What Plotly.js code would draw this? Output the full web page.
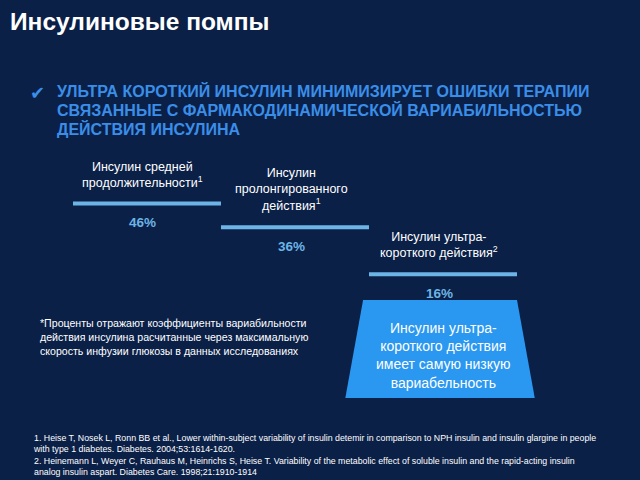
<!DOCTYPE html>
<html>
<head>
<meta charset="utf-8">
<script src="https://cdn.plot.ly/plotly-3.0.1.min.js"></script>
<style>html,body{margin:0;padding:0;background:#0b2047;}#chart{width:640px;height:480px;}</style>
</head>
<body>
<div id="chart"></div>
<script>
// ---- data ----
const categories = [
  'Инсулин средней<br>продолжительности<sup>1</sup>',
  'Инсулин<br>пролонгированного<br>действия<sup>1</sup>',
  'Инсулин ультра-<br>короткого действия<sup>2</sup>'
];
const variability = [46, 36, 16];
const valueLabels = ['46%', '36%', '16%'];

const titleText = 'Инсулиновые помпы';
const headingLines = [
  'УЛЬТРА КОРОТКИЙ ИНСУЛИН МИНИМИЗИРУЕТ ОШИБКИ ТЕРАПИИ',
  'СВЯЗАННЫЕ С ФАРМАКОДИНАМИЧЕСКОЙ ВАРИАБИЛЬНОСТЬЮ',
  'ДЕЙСТВИЯ ИНСУЛИНА'
];
const boxText = 'Инсулин ультра-<br>короткого действия<br>имеет самую низкую<br>вариабельность';
const noteText = '*Проценты отражают коэффициенты вариабильности<br>действия инсулина расчитанные через максимальную<br>скорость инфузии глюкозы в данных исследованиях';
const refText = '1. Heise T, Nosek L, Ronn BB et al., Lower within-subject variability of insulin detemir in comparison to NPH insulin and insulin glargine in people<br>with type 1 diabetes. Diabetes. 2004;53:1614-1620.<br>2. Heinemann L, Weyer C, Rauhaus M, Heinrichs S, Heise T. Variability of the metabolic effect of soluble insulin and the rapid-acting insulin<br>analog insulin aspart. Diabetes Care. 1998;21:1910-1914';

// ---- styles ----
const BG = '#0b2047';
const LINE = '#6cb4e6';
const HEAD = '#3a8ee8';
const BOX = '#2a97f0';
const FONT = 'Liberation Sans, Arial, sans-serif';

const traces = categories.map((c, i) => ({
  type: 'scatter', mode: 'lines',
  x: [i, i + 1], y: [variability[i], variability[i]],
  line: {color: LINE, width: 4},
  hoverinfo: 'skip', showlegend: false
}));

const annotations = [];
categories.forEach((c, i) => {
  annotations.push({
    x: i + 0.5, y: variability[i], xref: 'x', yref: 'y',
    text: c, showarrow: false, yanchor: 'bottom', xanchor: 'center',
    xshift: -4, yshift: 12, font: {family: FONT, size: 12.5, color: '#ffffff'}, align: 'center'
  });
  annotations.push({
    x: i + 0.5, y: variability[i], xref: 'x', yref: 'y',
    text: '<b>' + valueLabels[i] + '</b>', showarrow: false, yanchor: 'middle', xanchor: 'center',
    xshift: -4, yshift: -19, font: {family: FONT, size: 13.5, color: LINE}
  });
});

// title
annotations.push({
  xref: 'paper', yref: 'paper', x: 0.0125, y: 1 - 22 / 480, xanchor: 'left', yanchor: 'middle',
  text: '<b>' + titleText + '</b>', showarrow: false,
  font: {family: FONT, size: 24.5, color: '#ffffff'}
});
// check mark
annotations.push({
  xref: 'paper', yref: 'paper', x: 28 / 640, y: 1 - 93 / 480, xanchor: 'left', yanchor: 'middle',
  text: '✔', showarrow: false, font: {family: 'DejaVu Sans', size: 18, color: HEAD}
});
const headY = [91, 110, 129];
headingLines.forEach((t, k) => {
  annotations.push({
    xref: 'paper', yref: 'paper', x: 55 / 640, y: 1 - headY[k] / 480, xanchor: 'left', yanchor: 'middle',
    text: '<b>' + t + '</b>', showarrow: false, font: {family: FONT, size: 16, color: HEAD}
  });
});
// box text
annotations.push({
  xref: 'x', yref: 'paper', x: 2.5, y: 1 - 355 / 480, xanchor: 'center', yanchor: 'middle',
  text: boxText, showarrow: false, align: 'center',
  font: {family: FONT, size: 14, color: '#ffffff'}
});
// note
annotations.push({
  xref: 'paper', yref: 'paper', x: 38 / 640, y: 1 - 337 / 480, xanchor: 'left', yanchor: 'middle',
  text: noteText, showarrow: false, align: 'left',
  font: {family: FONT, size: 10.6, color: '#ffffff'}
});
// references
annotations.push({
  xref: 'paper', yref: 'paper', x: 31 / 640, y: 1 - 455 / 480, xanchor: 'left', yanchor: 'middle',
  text: refText, showarrow: false, align: 'left',
  font: {family: FONT, size: 8.8, color: '#ffffff'}
});

const layout = {
  width: 640, height: 480,
  margin: {l: 0, r: 0, t: 0, b: 0},
  paper_bgcolor: BG, plot_bgcolor: BG,
  xaxis: {range: [-0.4932, 3.8311], visible: false, fixedrange: true},
  yaxis: {range: [-71.28, 132.37], visible: false, fixedrange: true},
  showlegend: false,
  shapes: [{
    type: 'path', xref: 'x', yref: 'paper', layer: 'below',
    path: 'M 1.96,' + (1 - 300 / 480) + ' L 3.0,' + (1 - 300 / 480) +
          ' L 3.12,' + (1 - 398 / 480) + ' L 1.84,' + (1 - 398 / 480) + ' Z',
    fillcolor: BOX, line: {width: 0}
  }],
  annotations: annotations
};

Plotly.newPlot('chart', traces, layout, {staticPlot: true, displayModeBar: false});
</script>
</body>
</html>
